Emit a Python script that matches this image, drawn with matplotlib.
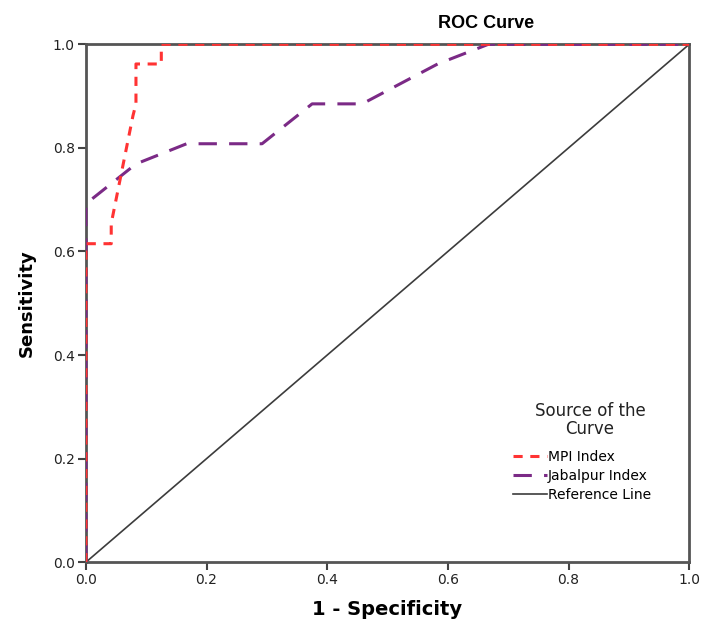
import matplotlib
matplotlib.use("Agg")
import matplotlib.pyplot as plt

# ROC points
mpi_fpr = [0.0, 0.0, 0.042, 0.042, 0.078, 0.083, 0.083, 0.125, 0.125, 1.0]
mpi_tpr = [0.0, 0.615, 0.615, 0.654, 0.862, 0.885, 0.962, 0.962, 1.0, 1.0]

jab_fpr = [0.0, 0.0, 0.083, 0.167, 0.292, 0.375, 0.458, 0.583, 0.667, 1.0]
jab_tpr = [0.0, 0.692, 0.769, 0.808, 0.808, 0.885, 0.885, 0.962, 1.0, 1.0]

ref_x = [0.0, 1.0]
ref_y = [0.0, 1.0]

ticks = [0.0, 0.2, 0.4, 0.6, 0.8, 1.0]

plt.rcParams['font.family'] = ['DejaVu Sans']

fig = plt.figure(figsize=(7.04, 6.24), dpi=100)
ax = fig.add_axes([0.122, 0.099, 0.857, 0.83])

ax.plot(ref_x, ref_y, color='#3c3c3c', lw=1.2, label='Reference Line', zorder=2)
ax.plot(jab_fpr, jab_tpr, color='#7b2a86', lw=2.2, dashes=(6, 4), label='Jabalpur Index', zorder=3)
ax.plot(mpi_fpr, mpi_tpr, color='#ff3333', lw=2.2, dashes=(3, 2.5), label='MPI Index', zorder=4)

ax.set_xlim(0, 1)
ax.set_ylim(0, 1)
ax.set_xticks(ticks)
ax.set_yticks(ticks)
ax.set_xticklabels([f"{t:.1f}" for t in ticks])
ax.set_yticklabels([f"{t:.1f}" for t in ticks])
ax.tick_params(direction='out', length=6, width=1.5, color='#444444', labelsize=10,
               labelcolor='#222222', pad=2)
for s in ax.spines.values():
    s.set_color('#555555')
    s.set_linewidth(2)

ax.set_xlabel('1 - Specificity', fontsize=14, fontweight='bold', labelpad=9)
ax.set_ylabel('Sensitivity', fontsize=13, fontweight='bold', labelpad=12)
fig.text(0.69, 0.963, 'ROC Curve', fontsize=13, fontweight='bold', ha='center', va='center',
         family='Liberation Sans')

# legend title drawn separately so it sits a bit above the entries
fig.text(0.838, 0.327, 'Source of the\nCurve', fontsize=12, ha='center', va='center',
         linespacing=1.0, color='#222222')

h, l = ax.get_legend_handles_labels()
order = [2, 1, 0]
leg = ax.legend([h[i] for i in order], [l[i] for i in order],
                loc='upper left', bbox_to_anchor=(0.729, 0.279), bbox_transform=fig.transFigure,
                frameon=False, fontsize=10, handlelength=2.4, borderpad=0, borderaxespad=0,
                handletextpad=0.1, labelspacing=0.35)

fig.savefig('out.png', dpi=100)
